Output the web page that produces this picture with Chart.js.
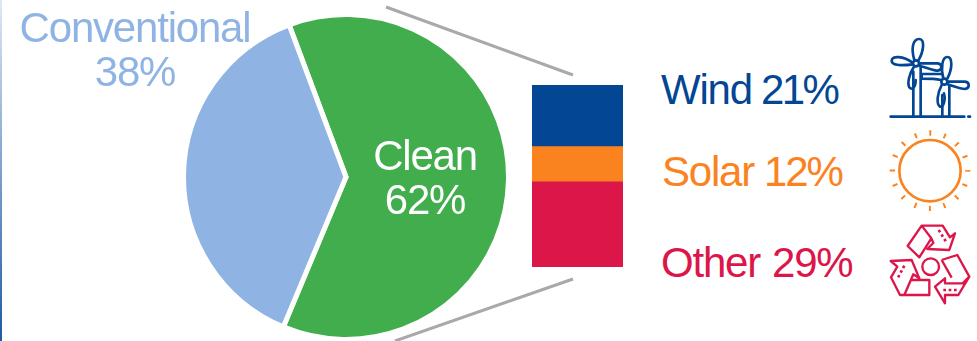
<!DOCTYPE html>
<html>
<head>
<meta charset="utf-8">
<title>Clean and conventional share</title>
<script src="https://cdn.jsdelivr.net/npm/chart.js@4"></script>
<style>
  html, body { margin: 0; padding: 0; background: #fff; }
  #page { position: relative; width: 977px; height: 341px; overflow: hidden; font-family: "Liberation Sans", Arial, sans-serif; }
  #edge { position: absolute; left: 0; top: 0; width: 2px; height: 341px; background: linear-gradient(#dfe8f4, #1f5aa3); }
  canvas { position: absolute; }
  #pieChart { left: 181px; top: 12px; }
  #barChart { left: 532px; top: 85px; }
  svg { position: absolute; left: 0; top: 0; }
  .lbl { position: absolute; font-size: 42px; line-height: 44px; letter-spacing: -1.2px; white-space: nowrap; }
  .center { text-align: center; transform: translateX(-50%); }
  .lbl span { margin-left: 10px; }
  #lblWind span { margin-left: 9px; letter-spacing: -2.6px; }
  #lblSolar span { letter-spacing: -2.2px; }
  #lblOther span { margin-left: 12px; }
</style>
</head>
<body>
<div id="page">
  <div id="edge"></div>
  <svg width="977" height="341" fill="none">
    <!-- zoom lines -->
    <line x1="386" y1="7" x2="573" y2="75" stroke="#a9a9ab" stroke-width="3"/>
    <line x1="395" y1="341" x2="573" y2="279" stroke="#a9a9ab" stroke-width="3"/>
    <!-- wind -->
    <g transform="translate(870,30) scale(0.3333)" stroke="#034694" stroke-width="8" stroke-linejoin="round" stroke-linecap="round">
      <path d="M62,260 H283 M295,260 H300"/>
      <path d="M130,258 V125 M152,258 V110"/>
      <circle cx="138" cy="100" r="9"/>
      <path d="M133,90 C124,60 126,27 148,27 C165,27 162,62 145,92"/>
      <path d="M128,98 C100,78 65,76 65,92 C65,108 100,107 128,103"/>
      <path d="M148,100 H203 C218,102 218,120 203,122 C190,122 170,112 150,108"/>
      <path d="M131,112 C118,132 111,160 118,172 C128,183 137,170 137,150"/>
      <path d="M217,258 V195 M238,258 V168"/>
      <circle cx="223" cy="155" r="9"/>
      <path d="M220,145 C212,115 216,81 232,81 C248,81 248,115 232,146"/>
      <path d="M233,155 H285 C300,157 300,175 285,177 C270,177 250,168 233,163"/>
      <path d="M215,165 C202,190 198,222 210,230 C222,232 227,205 222,190"/>
      <path d="M213,150 C195,146 170,146 155,146 V132 H213"/>
    </g>
    <!-- sun -->
    <g transform="translate(870,125) scale(0.3333)" stroke="#fb831f">
      <circle cx="180" cy="137" r="92" stroke-width="8"/>
      <circle cx="180" cy="137" r="113" stroke-width="16" stroke-dasharray="6 38.38" stroke-dashoffset="3"/>
    </g>
    <!-- recycle -->
    <g transform="translate(870,215) scale(0.3333)" stroke="#dd164a" stroke-width="7" stroke-linejoin="round">
      <circle cx="182" cy="155" r="25"/>
      <path d="M113,93 L155,32 H218 L240,67 L255,55 L238,105 L172,102 L190,84 L184,70 L148,127 Z M155,32 L184,70"/>
      <path d="M62,138 L125,135 L148,190 L130,178 L103,240 H90 L63,187 L82,155 Z M125,195 H178 V240 H103"/>
      <path d="M215,135 L262,120 L298,185 L265,240 H225 V265 L195,215 L225,190 V205 H278 L298,185 M215,135 L245,188"/>
      <g stroke-width="8" stroke-dasharray="8 8">
        <path d="M206,45 L228,80"/>
        <path d="M103,152 L84,188"/>
        <path d="M220,225 H262"/>
      </g>
    </g>
  </svg>
  <canvas id="pieChart" width="330" height="330"></canvas>
  <canvas id="barChart" width="91" height="182"></canvas>
  <div class="lbl center" id="lblConv" style="left:135px; top:6px; color:#8fb4e3"></div>
  <div class="lbl center" id="lblClean" style="left:425px; top:134px; color:#fff"></div>
  <div class="lbl" id="lblWind" style="left:661px; top:68px; color:#034694"></div>
  <div class="lbl" id="lblSolar" style="left:662px; top:150px; color:#fb831f"></div>
  <div class="lbl" id="lblOther" style="left:661px; top:241px; color:#dd164a"></div>
</div>
<script>
const pieLabels = ['Clean', 'Conventional'];
const pieValues = [62, 38];
const pieColors = ['#41ad4d', '#8fb4e3'];

const barLabels = ['Other', 'Solar', 'Wind']; // bottom to top
const barValues = [29, 12, 21];
const barColors = ['#dd164a', '#fb831f', '#034694'];

new Chart(document.getElementById('pieChart'), {
    type: 'pie',
    data: {
        labels: pieLabels,
        datasets: [{
            data: pieValues,
            backgroundColor: pieColors,
            borderColor: '#fff',
            borderWidth: 5,
            borderJoinStyle: 'miter'
        }]
    },
    options: {
        responsive: false,
        animation: false,
        rotation: -20.5,
        layout: { padding: 0 },
        plugins: { legend: { display: false }, tooltip: { enabled: false } }
    }
});

new Chart(document.getElementById('barChart'), {
    type: 'bar',
    data: {
        labels: ['Clean'],
        datasets: barLabels.map((name, i) => ({
            label: name,
            data: [barValues[i]],
            backgroundColor: barColors[i],
            barPercentage: 1,
            categoryPercentage: 1
        }))
    },
    options: {
        responsive: false,
        animation: false,
        layout: { padding: 0 },
        scales: {
            x: { stacked: true, display: false },
            y: { stacked: true, display: false, min: 0, max: 62 }
        },
        plugins: { legend: { display: false }, tooltip: { enabled: false } }
    }
});

// labels come from the same arrays
function pieText(i) { return pieLabels[i] + '<br>' + pieValues[i] + '%'; }
function barText(i) { return barLabels[i] + '<span>' + barValues[i] + '%</span>'; }
document.getElementById('lblClean').innerHTML = pieText(0);
document.getElementById('lblConv').innerHTML = pieText(1);
document.getElementById('lblOther').innerHTML = barText(0);
document.getElementById('lblSolar').innerHTML = barText(1);
document.getElementById('lblWind').innerHTML = barText(2);
</script>
</body>
</html>
